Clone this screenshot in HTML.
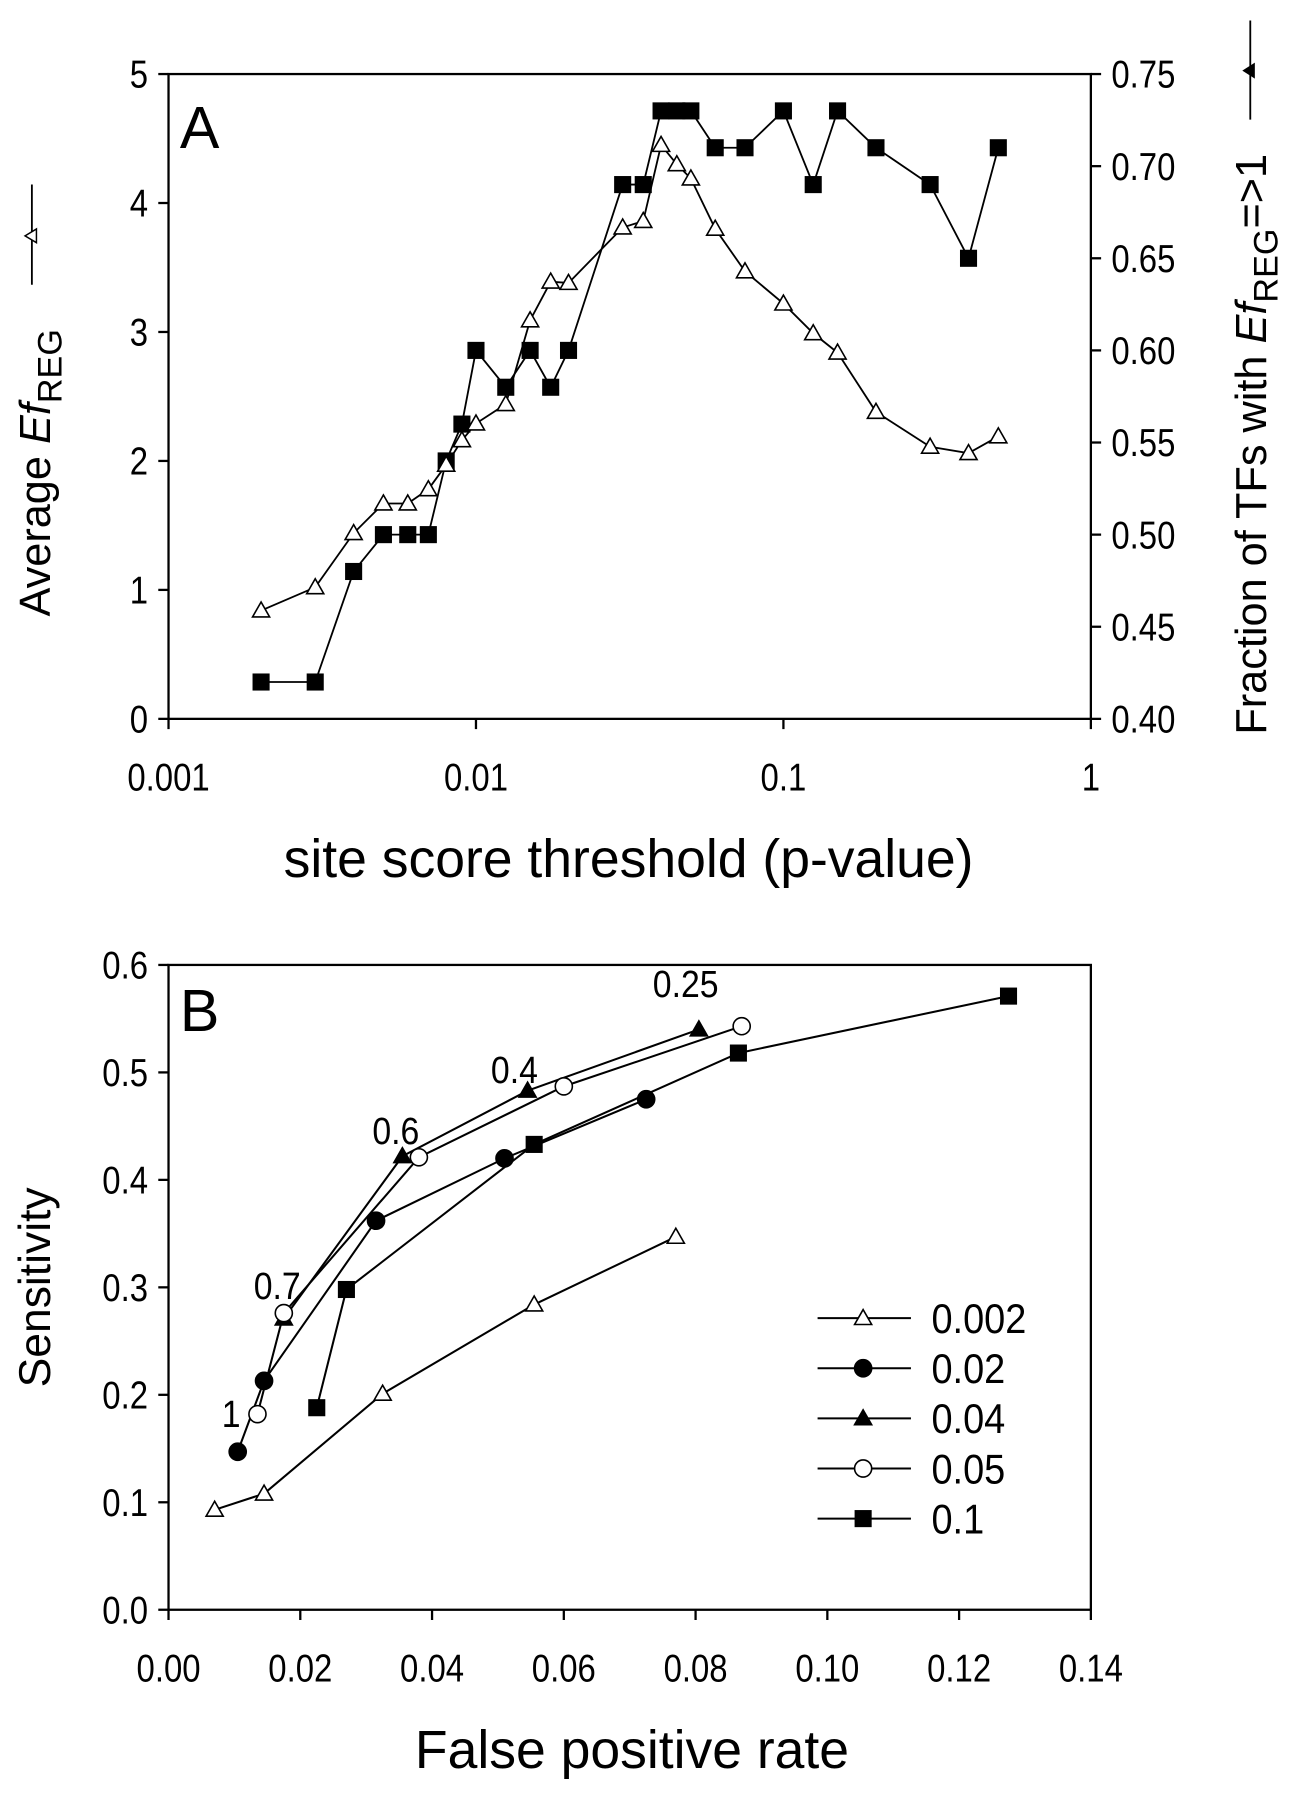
<!DOCTYPE html>
<html><head><meta charset="utf-8"><style>
html,body{margin:0;padding:0;background:#fff;}
svg{display:block;}
text{font-family:"Liberation Sans",sans-serif;fill:#000;}
</style></head><body>
<svg id="fig" width="1289" height="1800" viewBox="0 0 1132 1580" preserveAspectRatio="none" xmlns="http://www.w3.org/2000/svg"></svg>
<script>
// Panel A data
const pValues = [0.002,0.003,0.004,0.005,0.006,0.007,0.008,0.009,0.01,0.0125,0.015,0.0175,0.02,0.03,0.035,0.04,0.045,0.05,0.06,0.075,0.1,0.125,0.15,0.2,0.3,0.4,0.5];
const avgEf = [0.84,1.02,1.44,1.67,1.67,1.78,1.97,2.16,2.29,2.44,3.09,3.39,3.38,3.81,3.86,4.45,4.30,4.19,3.80,3.47,3.22,2.99,2.84,2.38,2.11,2.06,2.19];
const fracTF = [0.42,0.42,0.48,0.50,0.50,0.50,0.54,0.56,0.60,0.58,0.60,0.58,0.60,0.69,0.69,0.73,0.73,0.73,0.71,0.71,0.73,0.69,0.73,0.71,0.69,0.65,0.71];
const xTicksA = [0.001,0.01,0.1,1];
const xTickLabelsA = ["0.001","0.01","0.1","1"];
const yTicksA = [0,1,2,3,4,5];
const y2TicksA = [0.40,0.45,0.50,0.55,0.60,0.65,0.70,0.75];
// Panel B data
const seriesNames = ["0.002","0.02","0.04","0.05","0.1"];
const seriesMarkers = ["tri-open","circle-filled","tri-filled","circle-open","square-filled"];
const fpr002 = [0.007,0.0145,0.0325,0.0555,0.077];
const sens002 = [0.093,0.108,0.201,0.284,0.347];
const fpr02 = [0.0105,0.0145,0.0315,0.051,0.0725];
const sens02 = [0.147,0.213,0.362,0.420,0.475];
const fpr04 = [0.0175,0.0355,0.0545,0.0805];
const sens04 = [0.271,0.422,0.483,0.540];
const fpr05 = [0.0135,0.0175,0.038,0.06,0.087];
const sens05 = [0.182,0.276,0.421,0.487,0.543];
const fpr1 = [0.0225,0.027,0.0555,0.0865,0.1275];
const sens1 = [0.188,0.298,0.433,0.518,0.571];
const xTicksB = [0,0.02,0.04,0.06,0.08,0.10,0.12,0.14];
const yTicksB = [0,0.1,0.2,0.3,0.4,0.5,0.6];
const threshLabels = ["1","0.7","0.6","0.4","0.25"];
const threshFpr = [0.0095,0.0165,0.0345,0.0525,0.0785];
const threshSens = [0.183,0.302,0.446,0.503,0.583];

const NS="http://www.w3.org/2000/svg";
const svg=document.getElementById('fig');
function el(tag,attrs,parent){const e=document.createElementNS(NS,tag);for(const k in attrs)e.setAttribute(k,attrs[k]);(parent||svg).appendChild(e);return e;}
function txt(x,y,s,size,anchor,parent,sx){const t=el('text',{x:0,y:0,'font-size':size,'text-anchor':anchor||'middle',transform:`translate(${x},${y}) scale(${sx||1},1)`},parent);t.textContent=s;return t;}

function marker(type,x,y,g){
  const s=7.5;
  if(type.startsWith('tri')){
    const m=el('polygon',{points:`${x},${y-s} ${x-s},${y+s*0.75} ${x+s},${y+s*0.75}`,fill:type.endsWith('open')?'#fff':'#000',stroke:'#000','stroke-width':1.4},g);
    
  } else if(type.startsWith('circle')){
    const m=el('circle',{cx:x,cy:y,r:7.5,fill:type.endsWith('open')?'#fff':'#000',stroke:'#000','stroke-width':1.4},g);
    
  } else {
    const m=el('rect',{x:x-7.5,y:y-7.5,width:15,height:15,fill:'#000'},g);
    
  }
}

// ===== Panel A =====
const AL=148,AR=958,AT=65,AB=631;
const axA=v=>AL+(Math.log10(v)+3)/3*(AR-AL);
const ayA=v=>AB-v/5*(AB-AT);
const ay2A=v=>AB-(v-0.40)/0.35*(AB-AT);
const gA=el('g',{});

const frA=el('rect',{x:AL,y:AT,width:AR-AL,height:AB-AT,fill:'none',stroke:'#000','stroke-width':2},gA);

yTicksA.forEach(v=>{const y=ayA(v);el('line',{x1:AL-9,x2:AL,y1:y,y2:y,stroke:'#000','stroke-width':2},gA);
 const t=txt(AL-18,y+12,String(v),34,'end',gA,0.85);});
y2TicksA.forEach(v=>{const y=ay2A(v);el('line',{x1:AR,x2:AR+9,y1:y,y2:y,stroke:'#000','stroke-width':2},gA);
 const t=txt(AR+18,y+12,v.toFixed(2),34,'start',gA,0.85);});
xTicksA.forEach((v,i)=>{const x=axA(v);el('line',{x1:x,x2:x,y1:AB,y2:AB+9,stroke:'#000','stroke-width':2},gA);
 const t=txt(x,AB+63,xTickLabelsA[i],34,'middle',gA,0.85);});
const lA=txt(158,130,"A",52,'start',gA);
const xtA=txt(552,770,"site score threshold (p-value)",47,'middle',gA);
const ytA=el('text',{x:0,y:0,'font-size':38,'text-anchor':'middle',transform:'translate(44,415) rotate(-90)'},gA);
ytA.innerHTML='Average <tspan font-style="italic">Ef</tspan><tspan font-size="30" dy="10">REG</tspan>';

el('line',{x1:28,x2:28,y1:162,y2:250,stroke:'#000','stroke-width':1.6},gA);
el('polygon',{points:'22,207 32,201 32,213',fill:'#fff',stroke:'#000','stroke-width':1.3},gA);
const yt2=el('text',{x:0,y:0,'font-size':38,'text-anchor':'middle',transform:'translate(1112,390) rotate(-90)'},gA);
yt2.innerHTML='Fraction of TFs with <tspan font-style="italic">Ef</tspan><tspan font-size="30" dy="10">REG</tspan><tspan dy="-10">=&gt;1</tspan>';

el('line',{x1:1098,x2:1098,y1:18,y2:105,stroke:'#000','stroke-width':1.6},gA);
el('polygon',{points:'1091,62 1102,55 1102,69',fill:'#000'},gA);
const sq=el('g',{},gA);
el('polyline',{points:pValues.map((p,i)=>axA(p)+','+ay2A(fracTF[i])).join(' '),fill:'none',stroke:'#000','stroke-width':1.6},sq);
pValues.forEach((p,i)=>marker('square-filled',axA(p),ay2A(fracTF[i]),sq));
const tr=el('g',{},gA);
el('polyline',{points:pValues.map((p,i)=>axA(p)+','+ayA(avgEf[i])).join(' '),fill:'none',stroke:'#000','stroke-width':1.6},tr);
pValues.forEach((p,i)=>marker('tri-open',axA(p),ayA(avgEf[i]),tr));

// ===== Panel B =====
const BL=148,BR=958,BT=847,BB=1413;
const axB=v=>BL+v/0.14*(BR-BL);
const ayB=v=>BB-v/0.6*(BB-BT);
const gB=el('g',{});

const frB=el('rect',{x:BL,y:BT,width:BR-BL,height:BB-BT,fill:'none',stroke:'#000','stroke-width':2},gB);

yTicksB.forEach(v=>{const y=ayB(v);el('line',{x1:BL-9,x2:BL,y1:y,y2:y,stroke:'#000','stroke-width':2},gB);
 const t=txt(BL-18,y+12,v.toFixed(1),34,'end',gB,0.85);});
xTicksB.forEach(v=>{const x=axB(v);el('line',{x1:x,x2:x,y1:BB,y2:BB+9,stroke:'#000','stroke-width':2},gB);
 const t=txt(x,BB+63,v.toFixed(2),34,'middle',gB,0.85);});
const lB=txt(158,905,"B",52,'start',gB);
const xtB=txt(555,1552,"False positive rate",47,'middle',gB);
const ytB=el('text',{x:0,y:0,'font-size':39,'text-anchor':'middle',transform:'translate(44,1130) rotate(-90)'},gB);
ytB.textContent='Sensitivity';

const fprs=[fpr002,fpr02,fpr04,fpr05,fpr1], senss=[sens002,sens02,sens04,sens05,sens1];
const order=[0,4,1,2,3];
order.forEach(k=>{
  const g=el('g',{},gB);
  
  
  el('polyline',{points:fprs[k].map((f,i)=>axB(f)+','+ayB(senss[k][i])).join(' '),fill:'none',stroke:'#000','stroke-width':1.8},g);
  fprs[k].forEach((f,i)=>marker(seriesMarkers[k],axB(f),ayB(senss[k][i]),g));
});
threshLabels.forEach((s,i)=>{const t=txt(axB(threshFpr[i]),ayB(threshSens[i])+12,s,33,'middle',gB,0.9);
 });
const lg=el('g',{},gB);
seriesNames.forEach((n,i)=>{const y=1157+i*44;
  const e=el('g',{},lg);
  
  
  el('line',{x1:718,x2:800,y1:y,y2:y,stroke:'#000','stroke-width':1.8},e);
  marker(seriesMarkers[i],758,y,e);
  txt(818,y+13,n,37,'start',e,0.9);
});
</script>
</body></html>
